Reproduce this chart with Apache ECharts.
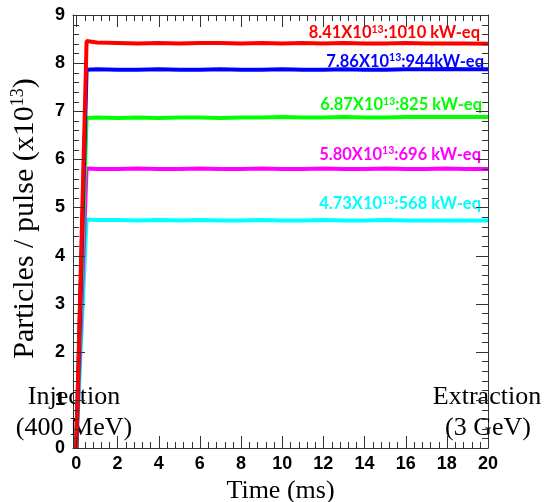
<!DOCTYPE html>
<html>
<head>
<meta charset="utf-8">
<title>Beam intensity during acceleration</title>
<script src="https://cdn.jsdelivr.net/npm/echarts@6/dist/echarts.min.js"></script>
<style>
  html, body { margin: 0; padding: 0; background: #fff; }
  #chart { width: 547px; height: 502px; }
</style>
</head>
<body>
<div id="chart"></div>
<script>
// Time samples over the acceleration cycle (ms)
const timeMs = [0, 0.5, 1, 2, 3, 4, 5, 6, 7, 8, 9, 10, 11, 12, 13, 14, 15, 16, 17, 18, 19, 20];

// Circulating particles per pulse (x10^13) for five beam settings
const beamRed     = [0, 8.46, 8.43, 8.42, 8.41, 8.42, 8.41, 8.42, 8.42, 8.41, 8.42, 8.41, 8.42, 8.41, 8.42, 8.41, 8.41, 8.42, 8.41, 8.41, 8.41, 8.40];
const beamBlue    = [0, 7.86, 7.87, 7.86, 7.86, 7.87, 7.86, 7.86, 7.87, 7.86, 7.86, 7.87, 7.86, 7.86, 7.87, 7.86, 7.86, 7.87, 7.87, 7.88, 7.87, 7.87];
const beamGreen   = [0, 6.86, 6.87, 6.86, 6.87, 6.86, 6.87, 6.87, 6.86, 6.87, 6.87, 6.88, 6.87, 6.87, 6.88, 6.87, 6.87, 6.88, 6.88, 6.88, 6.88, 6.88];
const beamMagenta = [0, 5.81, 5.80, 5.80, 5.81, 5.80, 5.80, 5.81, 5.80, 5.80, 5.81, 5.80, 5.80, 5.81, 5.80, 5.80, 5.81, 5.80, 5.80, 5.81, 5.80, 5.80];
const beamCyan    = [0, 4.75, 4.74, 4.74, 4.73, 4.74, 4.73, 4.74, 4.73, 4.73, 4.74, 4.73, 4.73, 4.74, 4.73, 4.73, 4.74, 4.73, 4.73, 4.73, 4.73, 4.73];

// Nominal intensity and equivalent beam power for each setting
const nominalIntensity = [8.41, 7.86, 6.87, 5.80, 4.73];
const powerText = ['1010 kW-eq', '944kW-eq', '825 kW-eq', '696 kW-eq', '568 kW-eq'];

// Axis tick values
const xMajorTicks = [0, 2, 4, 6, 8, 10, 12, 14, 16, 18, 20];
const yMajorTicks = [0, 1, 2, 3, 4, 5, 6, 7, 8, 9];

// ---- styling ----
const seriesColors = ['#ff0000', '#0000ff', '#00ff00', '#ff00ff', '#00ffff'];
const labelLift = [4, 2, 6, 8, 10];          // baseline height above the line, px
const labelShiftX = [-8, -4, -6, -7, -7];    // right edge inset from the frame, px
const frameColor = '#333';
const xMin = -0.16, xMax = 20;
const yMin = yMajorTicks[0], yMax = yMajorTicks[yMajorTicks.length - 1];
const MAJOR_LEN = 12, MINOR_LEN = 6;

// five subdivisions between neighbouring major ticks
function subdivide(majors) {
  const out = [];
  for (let i = 0; i < majors.length - 1; i++) {
    const a = majors[i], b = majors[i + 1];
    for (let k = 1; k < 5; k++) out.push(+(a + (b - a) * k / 5).toFixed(3));
  }
  return out;
}
const xMinorTicks = subdivide(xMajorTicks);
const yMinorTicks = subdivide(yMajorTicks);

// frame tick marks: [axis (0 = time, 1 = intensity), value, length]
const frameTicks = [].concat(
  xMajorTicks.map(v => [0, v, MAJOR_LEN]),
  xMinorTicks.map(v => [0, v, MINOR_LEN]),
  yMajorTicks.map(v => [1, v, MAJOR_LEN]),
  yMinorTicks.map(v => [1, v, MINOR_LEN])
);

const serif = 'Liberation Serif';
const tickLabelStyle = {
  show: true, fontFamily: 'Liberation Sans', fontWeight: 'bold', fontSize: 18, color: '#000'
};

const xAxes = [
  {
    type: 'value', position: 'bottom', min: xMin, max: xMax,
    axisLine: { show: true, onZero: false, lineStyle: { color: frameColor, width: 1 } },
    axisTick: { show: false },
    axisLabel: Object.assign({ customValues: xMajorTicks, margin: 7 }, tickLabelStyle),
    splitLine: { show: false },
    name: 'Time (ms)', nameLocation: 'middle', nameGap: 20,
    nameTextStyle: { fontFamily: serif, fontSize: 26, color: '#000' }
  },
  {
    type: 'value', position: 'top', min: xMin, max: xMax,
    axisLine: { show: true, onZero: false, lineStyle: { color: frameColor, width: 1 } },
    axisTick: { show: false }, axisLabel: { show: false }, splitLine: { show: false }
  }
];

const yAxes = [
  {
    type: 'value', position: 'left', min: yMin, max: yMax, interval: 1,
    axisLine: { show: true, onZero: false, lineStyle: { color: frameColor, width: 1 } },
    axisTick: { show: false },
    axisLabel: Object.assign({ margin: 8 }, tickLabelStyle),
    splitLine: { show: false },
    name: 'Particles / pulse (x10{s|13})', nameLocation: 'middle', nameRotate: 90, nameGap: 32,
    nameTextStyle: {
      fontFamily: serif, fontSize: 30, color: '#000', lineHeight: 32, padding: [0, 0, 0, 26],
      rich: { s: { fontFamily: serif, fontSize: 18, color: '#000', verticalAlign: 'top', lineHeight: 18 } }
    }
  },
  {
    type: 'value', position: 'right', min: yMin, max: yMax, interval: 1,
    axisLine: { show: true, onZero: false, lineStyle: { color: frameColor, width: 1 } },
    axisTick: { show: false }, axisLabel: { show: false }, splitLine: { show: false }
  }
];

const beams = [beamRed, beamBlue, beamGreen, beamMagenta, beamCyan];
const series = beams.map((vals, i) => ({
  type: 'line',
  xAxisIndex: 0, yAxisIndex: 0,
  data: timeMs.map((t, j) => [t, vals[j]]),
  showSymbol: false,
  lineStyle: { color: seriesColors[i], width: 4 },
  itemStyle: { color: seriesColors[i] },
  z: 10 - i,
  markPoint: {
    silent: true,
    symbol: 'circle', symbolSize: 1,
    itemStyle: { color: 'rgba(0,0,0,0)' },
    data: [{ coord: [xMax, nominalIntensity[i]] }],
    label: {
      show: true, position: 'top', distance: 0,
      align: 'right', verticalAlign: 'bottom',
      offset: [labelShiftX[i], -(labelLift[i] - 3)],
      formatter: nominalIntensity[i].toFixed(2) + 'X10{s|13}:' + powerText[i],
      fontFamily: 'Lato', fontWeight: 'bold', fontSize: 16.5, lineHeight: 18, color: seriesColors[i],
      rich: { s: { fontFamily: 'Lato', fontWeight: 'bold', fontSize: 10.5, lineHeight: 10, verticalAlign: 'top', color: seriesColors[i] } }
    }
  }
}));

// Inward-pointing ticks on all four sides of the frame
series.push({
  type: 'custom',
  name: 'frame ticks',
  xAxisIndex: 0, yAxisIndex: 0,
  silent: true,
  clip: false,
  z: 20,
  data: frameTicks,
  encode: { x: -1, y: -1 },
  renderItem: function (params, api) {
    const cs = params.coordSys;
    const axis = api.value(0), v = api.value(1), len = api.value(2);
    const style = { stroke: frameColor, lineWidth: 1 };
    if (axis === 0) {
      const px = Math.round(api.coord([v, yMin])[0]) + 0.5;
      const bottom = cs.y + cs.height, top = cs.y;
      return {
        type: 'group', children: [
          { type: 'line', shape: { x1: px, y1: bottom, x2: px, y2: bottom - len }, style: style },
          { type: 'line', shape: { x1: px, y1: top, x2: px, y2: top + len }, style: style }
        ]
      };
    }
    const py = Math.round(api.coord([xMin, v])[1]) + 0.5;
    const left = cs.x, right = cs.x + cs.width;
    return {
      type: 'group', children: [
        { type: 'line', shape: { x1: left, y1: py, x2: left + len, y2: py }, style: style },
        { type: 'line', shape: { x1: right, y1: py, x2: right - len, y2: py }, style: style }
      ]
    };
  }
});

const noteStyle = { fontFamily: serif, fontSize: 26, fill: '#000', align: 'center', verticalAlign: 'middle' };
const graphic = [
  { type: 'text', x: 74, y: 397, z: 1, style: Object.assign({ text: 'Injection' }, noteStyle) },
  { type: 'text', x: 74, y: 428, z: 1, style: Object.assign({ text: '(400 MeV)' }, noteStyle) },
  { type: 'text', x: 487, y: 397, z: 1, style: Object.assign({ text: 'Extraction' }, noteStyle) },
  { type: 'text', x: 488, y: 428, z: 1, style: Object.assign({ text: '(3 GeV)' }, noteStyle) }
];

const chart = echarts.init(document.getElementById('chart'));
chart.setOption({
  animation: false,
  backgroundColor: '#fff',
  grid: { left: 73, right: 59, top: 15, bottom: 54, outerBoundsMode: 'none' },
  xAxis: xAxes,
  yAxis: yAxes,
  series: series,
  graphic: graphic
});
</script>
</body>
</html>
